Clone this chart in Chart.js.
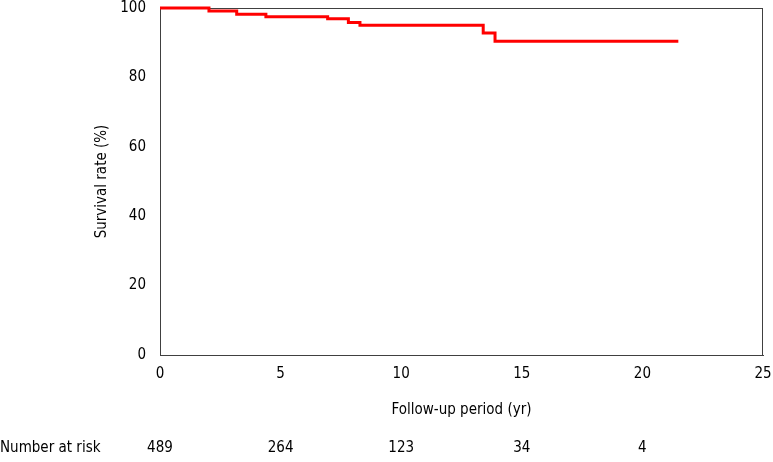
<!DOCTYPE html>
<html>
<head>
<meta charset="utf-8">
<script src="https://cdn.jsdelivr.net/npm/chart.js@4.4.1/dist/chart.umd.min.js"></script>
<style>
  html, body { margin: 0; padding: 0; background: #fff; }
  #wrap { width: 773px; height: 462px; position: relative; }
</style>
</head>
<body>
<div id="wrap"><canvas id="kmChart"></canvas></div>
<script>
// Kaplan-Meier survival estimate
const eventTimes = [0, 2.03, 3.18, 4.39, 6.95, 7.81, 8.29, 13.4, 13.89, 21.49];
const survival   = [100, 99.1, 98.2, 97.5, 96.9, 95.8, 95.0, 92.8, 90.4, 90.4];

// number at risk row
const riskTimes  = [0, 5, 10, 15, 20];
const riskCounts = [489, 264, 123, 34, 4];

const xTicks = [0, 5, 10, 15, 20, 25];
const yTicks = [0, 20, 40, 60, 80, 100];

const FONT = '"DejaVu Sans Condensed", "Liberation Sans", sans-serif';
Chart.defaults.font.family = FONT;
Chart.defaults.font.size = 15;
Chart.defaults.color = '#000';

// box round the plot, drawn under the curve
const frame = {
  id: 'frame',
  beforeDatasetsDraw(chart) {
    const { ctx, chartArea: a } = chart;
    ctx.save();
    ctx.strokeStyle = '#404040';
    ctx.lineWidth = 1;
    ctx.strokeRect(a.left + 0.5, a.top + 0.5, a.right - a.left - 1, a.bottom - a.top);
    ctx.restore();
  }
};

const riskRow = {
  id: 'riskRow',
  afterDraw(chart) {
    const { ctx } = chart;
    const xs = chart.scales.x;
    const y = 448;
    ctx.save();
    ctx.font = '15px ' + FONT;
    ctx.fillStyle = '#000';
    ctx.textBaseline = 'middle';
    ctx.textAlign = 'left';
    ctx.fillText('Number at risk', 0, y);
    ctx.textAlign = 'center';
    riskTimes.forEach((t, i) => {
      ctx.fillText(String(riskCounts[i]), xs.getPixelForValue(t), y);
    });
    ctx.restore();
  }
};

new Chart(document.getElementById('kmChart'), {
  type: 'line',
  data: {
    datasets: [{
      data: eventTimes.map((t, i) => ({ x: t, y: survival[i] })),
      borderColor: '#ff0000',
      borderWidth: 3,
      pointRadius: 0,
      stepped: 'before',
      fill: false,
      clip: false
    }]
  },
  options: {
    responsive: true,
    maintainAspectRatio: false,
    animation: false,
    layout: { padding: { left: 89, right: 10, top: 8, bottom: 39 } },
    plugins: { legend: { display: false }, tooltip: { enabled: false } },
    scales: {
      x: {
        type: 'linear',
        min: 0, max: 25,
        afterBuildTicks: s => { s.ticks = xTicks.map(v => ({ value: v })); },
        afterFit: s => { s.height = 68; s.paddingLeft = 0; s.paddingRight = 0; },
        grid: { display: false, drawTicks: false },
        border: { display: true, color: '#404040' },
        ticks: { padding: 10 },
        title: { display: true, text: 'Follow-up period (yr)', padding: { top: 0, bottom: 4 } }
      },
      y: {
        min: 0, max: 100,
        afterBuildTicks: s => { s.ticks = yTicks.map(v => ({ value: v })); },
        afterFit: s => { s.width = 71; s.paddingTop = 0; s.paddingBottom = 0; },
        grid: { display: false, drawTicks: false },
        border: { display: true, color: '#808080' },
        ticks: { padding: 14 },
        title: { display: true, text: 'Survival rate (%)', padding: 4 }
      }
    }
  },
  plugins: [frame, riskRow]
});
</script>
</body>
</html>
